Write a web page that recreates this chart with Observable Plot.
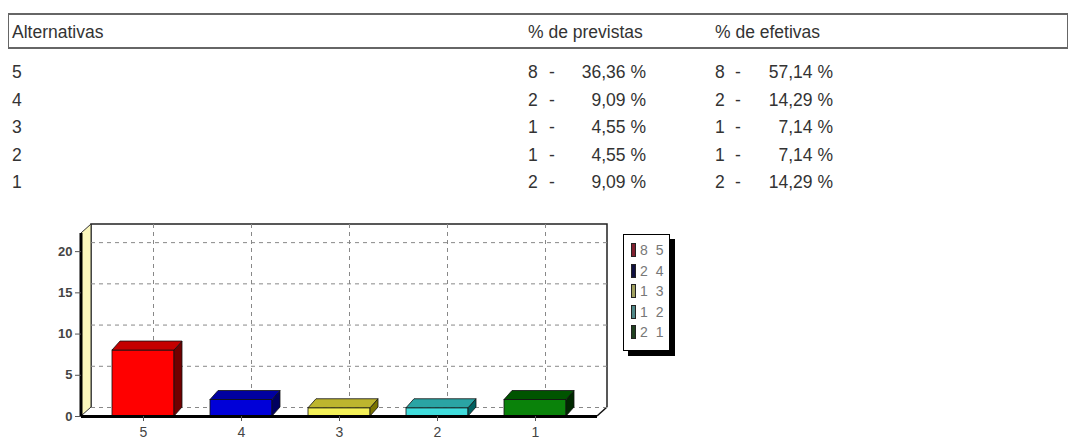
<!DOCTYPE html>
<html><head><meta charset="utf-8">
<script src="https://cdn.jsdelivr.net/npm/d3@7"></script>
<script src="https://cdn.jsdelivr.net/npm/@observablehq/plot@0.6"></script>
<style>
body{margin:0;background:#fff;width:1072px;height:441px;overflow:hidden;position:relative;font-family:"Liberation Sans",Arial,sans-serif;color:#333}
.abs{position:absolute;white-space:nowrap;font-size:17.5px;line-height:20px;color:#333}
#hdr{position:absolute;left:8px;top:13px;width:1058px;height:32px;border:2px solid #666;border-left-width:1px;border-right-width:1px}
#legend{position:absolute;left:623px;top:234px;width:47px;height:117px;border:1.5px solid #000;box-shadow:5px 5px 0 #000;background:#fff;padding-top:5px;box-sizing:border-box}
.lrow{height:20.5px;line-height:20.5px;font-size:14px;color:#777;padding-left:7px;letter-spacing:2px;white-space:nowrap}
.sw{display:inline-block;width:3px;height:12px;border:1px solid #222;vertical-align:-2px;margin-right:4px}
</style></head><body>
<div id="hdr"></div>
<div id="table"></div>
<div id="chart" style="position:absolute;left:0;top:200px"></div>
<div id="legend"></div>
<script>
const headers = ["Alternativas", "% de previstas", "% de efetivas"];
const alternativas = ["5", "4", "3", "2", "1"];
const previstasCount = [8, 2, 1, 1, 2];
const previstasPct = ["36,36", "9,09", "4,55", "4,55", "9,09"];
const efetivasCount = [8, 2, 1, 1, 2];
const efetivasPct = ["57,14", "14,29", "7,14", "7,14", "14,29"];
const barValues = [8, 2, 1, 1, 2];
const frontColors = ["#ff0000", "#0000d8", "#f4f058", "#40dcdc", "#0a820a"];
const topColors = ["#c40000", "#0000a0", "#bdb52e", "#2aa4a4", "#005400"];
const sideColors = ["#700000", "#000060", "#7a7400", "#006060", "#002800"];
const legendColors = ["#802030", "#101040", "#a0a060", "#508888", "#204020"];
const yTicks = [0, 5, 10, 15, 20];

// ---- table (HTML) ----
const T = document.getElementById("table");
function put(txt, left, top, align) {
  const d = document.createElement("div");
  d.className = "abs";
  d.textContent = txt;
  d.style.top = top + "px";
  if (align === "right") { d.style.right = (1072 - left) + "px"; } else { d.style.left = left + "px"; }
  T.appendChild(d);
}
const hdrX = [12, 528, 715];
headers.forEach((h, i) => put(h, hdrX[i], 22));
alternativas.forEach((a, i) => {
  const top = 62 + i * 27.5;
  put(a, 12, top);
  put(String(previstasCount[i]), 528, top);
  put("-", 549, top);
  put(previstasPct[i] + " %", 646, top, "right");
  put(String(efetivasCount[i]), 715, top);
  put("-", 735, top);
  put(efetivasPct[i] + " %", 833, top, "right");
});

// ---- legend (HTML) ----
const L = document.getElementById("legend");
alternativas.forEach((a, i) => {
  const r = document.createElement("div");
  r.className = "lrow";
  const s = document.createElement("span");
  s.className = "sw";
  s.style.background = legendColors[i];
  r.appendChild(s);
  r.appendChild(document.createTextNode(barValues[i] + " " + a));
  L.appendChild(r);
});

// ---- chart (Plot) ----
const data = alternativas.map((a, i) => ({alt: a, v: barValues[i], i}));
const DX = 10, DY = -9;   // back wall depth
const BX = 8, BY = -9;    // bar depth

function walls(index, scales, values, dim) {
  const x0 = dim.marginLeft, x1 = dim.width - dim.marginRight;
  const y0 = dim.height - dim.marginBottom, yT = dim.marginTop;
  const g = d3.create("svg:g");
  g.append("rect").attr("x", x0 + DX).attr("y", yT + DY).attr("width", x1 - x0).attr("height", y0 - yT).attr("fill", "#fff");
  g.append("path").attr("d", `M${x0 + DX},${y0 + DY}V${yT + DY}H${x1 + DX}V${y0 + DY}`).attr("fill", "none").attr("stroke", "#222").attr("stroke-width", 1.5);
  g.append("path").attr("d", `M${x0},${y0}V${yT}L${x0 + DX},${yT + DY}V${y0 + DY}Z`).attr("fill", "#fbf7bc").attr("stroke", "#333").attr("stroke-width", 1);
  g.append("line").attr("x1", x0).attr("x2", x0).attr("y1", yT).attr("y2", y0).attr("stroke", "#000").attr("stroke-width", 3);
  g.append("line").attr("x1", x1).attr("y1", y0).attr("x2", x1 + DX).attr("y2", y0 + DY).attr("stroke", "#111").attr("stroke-width", 1.5);
  return g.node();
}

function faces(index, scales, values, dim, ctx, next) {
  const g = next(index, scales, values, dim, ctx);
  const rects = Array.from(g.querySelectorAll("rect"));
  rects.forEach((r, k) => {
    const i = index[k];
    const x = +r.getAttribute("x"), y = +r.getAttribute("y");
    const w = +r.getAttribute("width"), h = +r.getAttribute("height");
    const top = document.createElementNS("http://www.w3.org/2000/svg", "path");
    top.setAttribute("d", `M${x},${y}L${x + BX},${y + BY}H${x + w + BX}L${x + w},${y}Z`);
    top.setAttribute("fill", topColors[data[i].i]);
    top.setAttribute("stroke", "#111");
    top.setAttribute("stroke-width", "0.8");
    const side = document.createElementNS("http://www.w3.org/2000/svg", "path");
    side.setAttribute("d", `M${x + w},${y}L${x + w + BX},${y + BY}V${y + h + BY}L${x + w},${y + h}Z`);
    side.setAttribute("fill", sideColors[data[i].i]);
    side.setAttribute("stroke", "#111");
    side.setAttribute("stroke-width", "0.8");
    g.appendChild(side);
    g.appendChild(top);
  });
  return g;
}

const chart = Plot.plot({
  width: 700,
  height: 241,
  marginLeft: 81,
  marginRight: 103,
  marginTop: 33,
  marginBottom: 25,
  style: {background: "transparent", fontFamily: "Liberation Sans, Arial, sans-serif", color: "#333"},
  x: {domain: alternativas, paddingInner: 0.37, paddingOuter: 0.3, label: null},
  y: {domain: [0, 22.2], ticks: yTicks, label: null},
  marks: [
    Plot.frame({stroke: "none", render: walls}),
    Plot.gridY(yTicks, {dx: DX, dy: DY, stroke: "#888", strokeOpacity: 1, strokeDasharray: "4,4"}),
    Plot.gridX(alternativas, {dx: DX, dy: DY, stroke: "#888", strokeOpacity: 1, strokeDasharray: "4,4"}),
    Plot.barY(data, {x: "alt", y: "v", fill: (d) => frontColors[d.i], stroke: "#111", strokeWidth: 0.8, render: faces}),
    Plot.ruleY([0], {stroke: "#000", strokeWidth: 3}),
    Plot.axisY(yTicks, {tickSize: 6, tickPadding: 3, fontSize: 13, fontWeight: "bold", fill: "#444", stroke: "#555"}),
    Plot.axisX(alternativas, {tickSize: 5, tickPadding: 6, fontSize: 14, fill: "#444", stroke: "#555"})
  ]
});
document.getElementById("chart").appendChild(chart);
</script>
</body></html>
